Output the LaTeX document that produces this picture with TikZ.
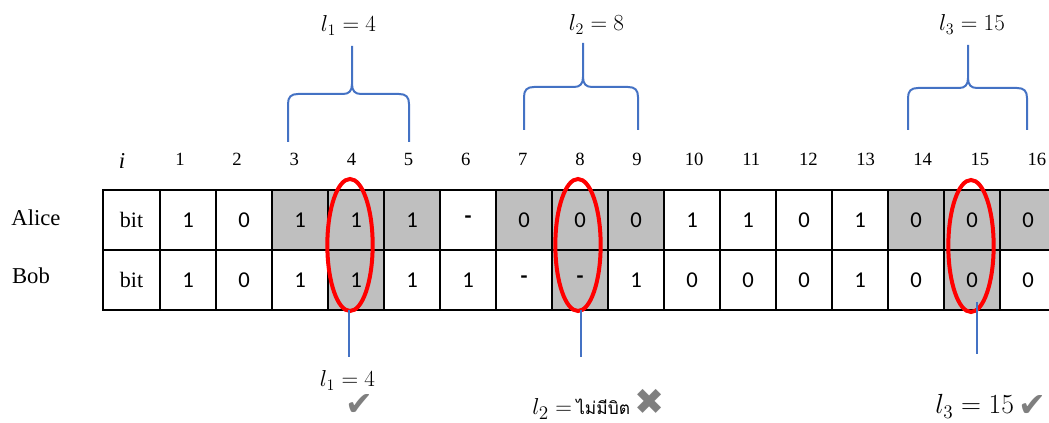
\documentclass[tikz,border=0pt]{standalone}
\usepackage{fontspec}
\setmainfont{Liberation Serif}
\newfontfamily\cellfont{Carlito}
\newfontfamily\thaifont[Script=Thai]{Loma}
\newfontfamily\symfont{DejaVu Sans}
\usetikzlibrary{positioning,calc,shapes.geometric}
\definecolor{shade}{RGB}{191,191,191}
\definecolor{braceblue}{RGB}{68,114,196}
\definecolor{tickgray}{RGB}{127,127,127}
% L, R, cusp x, level, tip, foot
\newcommand{\drawbrace}[6]{%
  \draw[bracel] (#1,#6) -- (#1,#4+10) .. controls (#1,#4+3) and (#1+3,#4) .. (#1+10,#4)
    -- (#3-9,#4) .. controls (#3-3,#4) and (#3,#4-3) .. (#3,#4-10) -- (#3,#5)
    (#3,#4-10) .. controls (#3,#4-3) and (#3+3,#4) .. (#3+9,#4)
    -- (#2-10,#4) .. controls (#2-3,#4) and (#2,#4+3) .. (#2,#4+10) -- (#2,#6);
}

\begin{document}
\begin{tikzpicture}[x=0.75pt, y=-0.75pt,
      cell/.style={draw, line width=1.4pt, minimum width=42pt, minimum height=45pt,
        inner sep=0pt, outer sep=0pt, font=\cellfont\fontsize{17}{20}\selectfont},
      bitcell/.style={cell, minimum width=42.75pt, font=\fontsize{16.5}{18}\selectfont},
      idx/.style={font=\fontsize{14}{16}\selectfont},
      who/.style={font=\fontsize{17}{20}\selectfont},
      ring/.style={draw=red, line width=3pt, ellipse, minimum width=34pt,
        minimum height=99pt, inner sep=0pt},
      bracel/.style={draw=braceblue, line width=1.5pt},
      pin/.style={draw=braceblue, line width=1pt},
      lbl/.style={font=\fontsize{18}{20}\selectfont, anchor=base},
      tick/.style={font=\symfont\fontsize{25}{28}\selectfont, text=tickgray, inner sep=0pt}]
    \path[use as bounding box, clip] (0,0) rectangle (1049,423);

    % row names and index row
    \node[who] (alice) at (36,218) {Alice};
    \node[who] (bob) at (31,276) {Bob};
    \node[font=\itshape\fontsize{17}{20}\selectfont] (i) at (122,161) {i};
    \foreach \k in {1,...,16}
      \node[idx] (n\k) at ({122.9+57.13*\k},159) {\k};

    % the two strings
    \node[bitcell] (abit) at (131.5,220) {bit};
    \node[bitcell] (bbit) at (131.5,280) {bit};
    \foreach \v/\s [count=\k] in {1/white,0/white,1/shade,1/shade,1/shade,\textbf{-}/white,0/shade,0/shade,
        0/shade,1/white,1/white,0/white,1/white,0/shade,0/shade,0/shade}
      \node[cell, fill=\s] (a\k) at ({132+56*\k},220) {\v};
    \foreach \v/\s [count=\k] in {1/white,0/white,1/white,1/shade,1/white,1/white,\textbf{-}/white,\textbf{-}/shade,
        1/white,0/white,0/white,0/white,1/white,0/white,0/shade,0/white}
      \node[cell, fill=\s] (b\k) at ({132+56*\k},280) {\v};

    % marked positions
    \node[ring] (r4) at (350,245) {};
    \node[ring] (r8) at (578,245) {};
    \node[ring] (r15) at (971,246) {};

    % braces over the blocks
    \drawbrace{288}{409}{352}{94}{46}{142}
    \drawbrace{524}{638}{583}{87}{43}{130}
    \drawbrace{908}{1027}{968}{88}{45}{130}
    \node[lbl] (l1) at (348.5,32) {$l_1 = 4$};
    \node[lbl] (l2) at (596.5,31) {$l_2 = 8$};
    \node[lbl] (l3) at (972,31) {$l_3 = 15$};

    % results below
    \coordinate (p4) at (349,357);
    \coordinate (p8) at (581,357);
    \coordinate (p15) at (977,354);
    \draw[pin] (b4.south -| p4) -- (p4);
    \draw[pin] (b8.south -| p8) -- (p8);
    \draw[pin] ([yshift=6pt]b15.south -| p15) -- (p15);
    \node[lbl] (res1) at (347.5,387) {$l_1 = 4$};
    \node[tick] (ok1) at (359,405) {✔};
    \node[font=\fontsize{19}{22}\selectfont, anchor=base west, inner sep=0pt] (res2) at (532,415)
      {$l_2 =$\,{\thaifont\fontsize{13}{16}\selectfont ไม่มีบิต}\,{\symfont\color{tickgray}\fontsize{27}{30}\selectfont ✖}};
    \node[font=\fontsize{19.5}{22}\selectfont, anchor=base west, inner sep=0pt] (res3) at (935,414) {$l_3 = 15$};
    \node[tick, right=3pt of res3.east, anchor=west] (ok3) {✔};
  \end{tikzpicture}
\end{document}
